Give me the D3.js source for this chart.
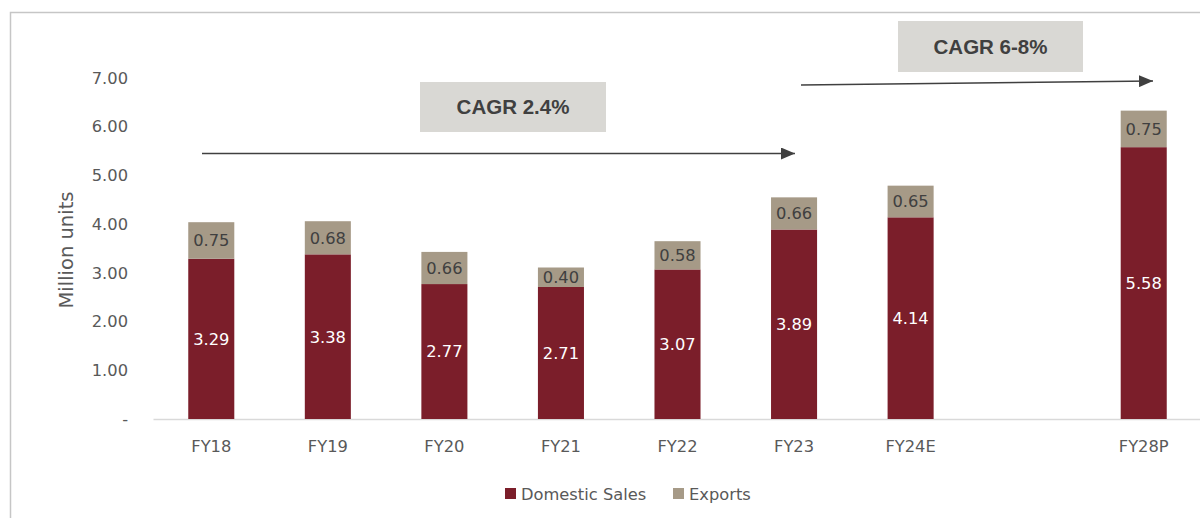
<!DOCTYPE html>
<html><head><meta charset="utf-8">
<script src="https://cdn.jsdelivr.net/npm/d3@7/dist/d3.min.js"></script>
<style>body{margin:0;background:#fff}svg{display:block}</style>
</head><body><svg id="c" width="1200" height="518"></svg>
<script>
const categories = ["FY18","FY19","FY20","FY21","FY22","FY23","FY24E","","FY28P"];
const domestic = [3.29,3.38,2.77,2.71,3.07,3.89,4.14,null,5.58];
const exportsV = [0.75,0.68,0.66,0.40,0.58,0.66,0.65,null,0.75];
const yTicks = [0,1,2,3,4,5,6,7];
const seriesNames = ["Domestic Sales","Exports"];
const colors = ["#7B1E2A","#A69A87"];
const cagrLabels = ["CAGR 2.4%","CAGR 6-8%"];

const svg = d3.select("#c");
const x = d3.scaleBand().domain(categories).range([153,1202]).paddingInner(0.605).paddingOuter(0.3025);
const y = d3.scaleLinear().domain([0,7]).range([419,78]);
const font = "DejaVu Sans, sans-serif";
const fs = 16.3;

// frame
svg.append("path").attr("d","M10.5,520 V12.5 H1202").attr("fill","none").attr("stroke","#c6c6c6").attr("stroke-width",1.5);

// y axis labels
const yAxis = d3.axisLeft(y).tickValues(yTicks).tickSize(0).tickPadding(0)
  .tickFormat(d => d===0 ? "-" : d3.format(".2f")(d));
const ya = svg.append("g").attr("transform","translate(128,0)").call(yAxis);
ya.select(".domain").remove();
ya.selectAll("text").attr("font-family",font).attr("font-size",fs).attr("fill","#595959");

// baseline & x labels
const xAxis = d3.axisBottom(x).tickSize(0).tickPadding(21);
const xa = svg.append("g").attr("transform","translate(0,419)").call(xAxis);
xa.select(".domain").attr("stroke","#d9d9d9").attr("stroke-width",1.5);
xa.selectAll("text").attr("font-family",font).attr("font-size",fs).attr("fill","#595959");

// y title
svg.append("text").attr("transform","translate(73,250) rotate(-90)").attr("text-anchor","middle")
  .attr("font-family",font).attr("font-size",19.5).attr("fill","#595959").text("Million units");

// bars
const data = categories.map((c,i)=>({c, d:domestic[i], e:exportsV[i]})).filter(o=>o.d!=null);
const g = svg.append("g");
g.selectAll("rect.dom").data(data).join("rect").attr("class","dom")
  .attr("x",o=>x(o.c)).attr("width",x.bandwidth())
  .attr("y",o=>y(o.d)).attr("height",o=>y(0)-y(o.d)).attr("fill",colors[0]);
g.selectAll("rect.exp").data(data).join("rect").attr("class","exp")
  .attr("x",o=>x(o.c)).attr("width",x.bandwidth())
  .attr("y",o=>y(o.d+o.e)).attr("height",o=>y(o.d)-y(o.d+o.e)).attr("fill",colors[1]);
g.selectAll("text.dl").data(data).join("text").attr("class","dl")
  .attr("x",o=>x(o.c)+x.bandwidth()/2).attr("y",o=>y(o.d/2)).attr("dy","0.36em")
  .attr("text-anchor","middle").attr("font-family",font).attr("font-size",fs).attr("fill","#ffffff")
  .text(o=>d3.format(".2f")(o.d));
g.selectAll("text.el").data(data).join("text").attr("class","el")
  .attr("x",o=>x(o.c)+x.bandwidth()/2).attr("y",o=>y(o.d+o.e/2)).attr("dy","0.36em")
  .attr("text-anchor","middle").attr("font-family",font).attr("font-size",fs).attr("fill","#404040")
  .text(o=>d3.format(".2f")(o.e));

// annotations
const defs = svg.append("defs");
defs.append("marker").attr("id","ah").attr("viewBox","0 0 10 10").attr("refX",10).attr("refY",5)
  .attr("markerWidth",14).attr("markerHeight",12).attr("markerUnits","userSpaceOnUse").attr("orient","auto")
  .attr("preserveAspectRatio","none")
  .append("path").attr("d","M0,0 L10,5 L0,10 Z").attr("fill","#404040");
const ann = [
  {box:[420,82,186,50], line:[202,153.5,795,153.5], label:cagrLabels[0]},
  {box:[898,21,185,51], line:[801,85,1153,81], label:cagrLabels[1]}
];
ann.forEach(a=>{
  svg.append("rect").attr("x",a.box[0]).attr("y",a.box[1]).attr("width",a.box[2]).attr("height",a.box[3]).attr("fill","#d9d8d4");
  svg.append("text").attr("x",a.box[0]+a.box[2]/2).attr("y",a.box[1]+a.box[3]/2).attr("dy","0.36em")
    .attr("text-anchor","middle").attr("font-family","Liberation Sans, Arial, sans-serif").attr("font-weight","bold")
    .attr("font-size",20.5).attr("fill","#404040").text(a.label);
  svg.append("line").attr("x1",a.line[0]).attr("y1",a.line[1]).attr("x2",a.line[2]).attr("y2",a.line[3])
    .attr("stroke","#404040").attr("stroke-width",1.5).attr("marker-end","url(#ah)");
});

// legend
const leg = [{x:505,tx:521},{x:673,tx:689}];
seriesNames.forEach((n,i)=>{
  svg.append("rect").attr("x",leg[i].x).attr("y",488).attr("width",11).attr("height",11).attr("fill",colors[i]);
  svg.append("text").attr("x",leg[i].tx).attr("y",499.5).attr("font-family",font).attr("font-size",fs)
    .attr("fill","#595959").text(n);
});
</script></body></html>
